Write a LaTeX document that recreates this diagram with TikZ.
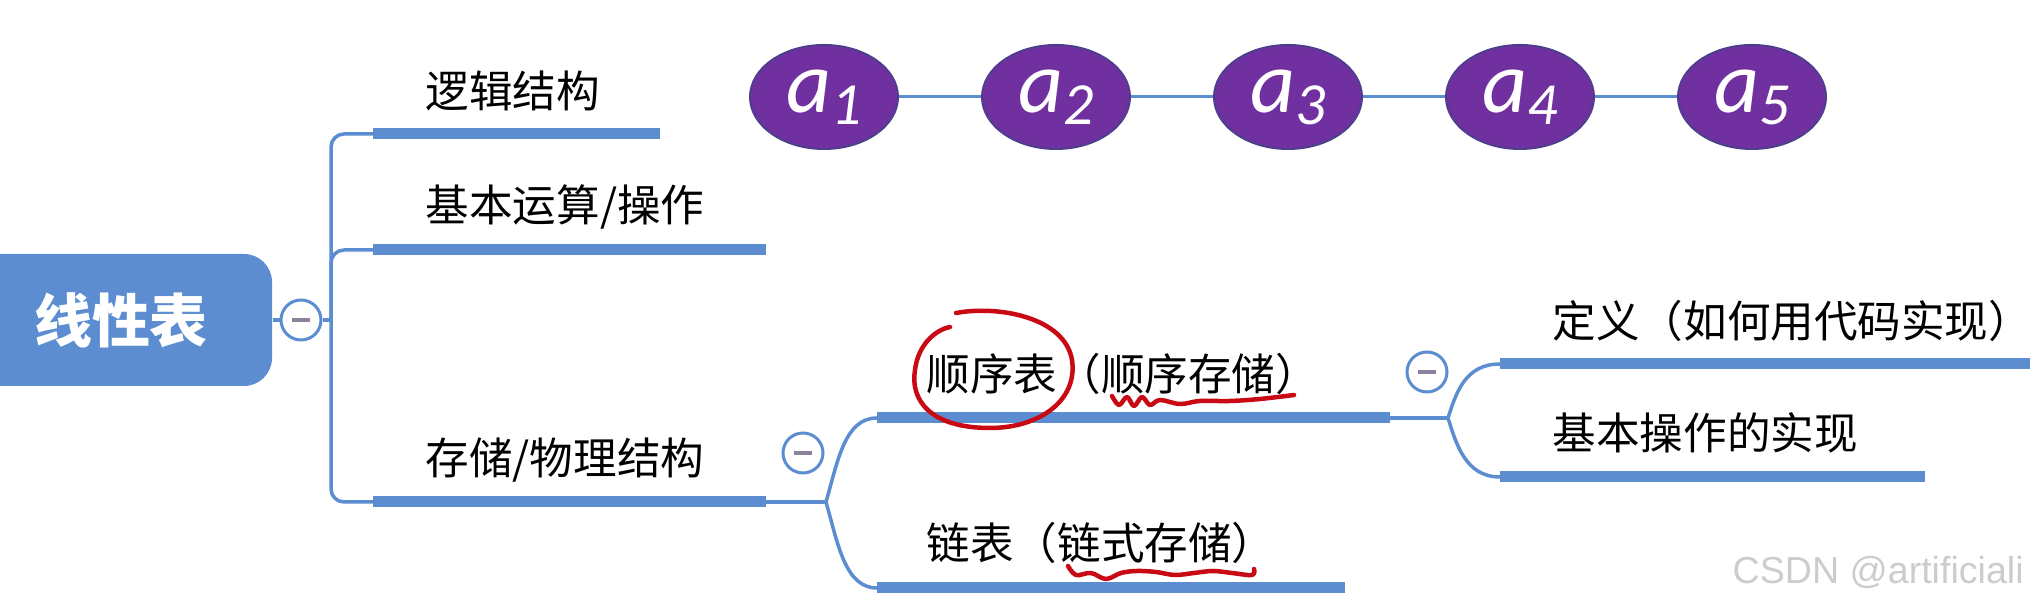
\documentclass[tikz,border=0pt]{standalone}
\usepackage{xcolor}
\usepackage{fontspec}
\usepackage{tikz}
\usetikzlibrary{shapes.geometric, positioning}

\newfontfamily\cjk{Noto Sans CJK SC}
\newfontfamily\calib{Carlito}
\newfontfamily\wmfont{Liberation Sans}

\definecolor{mapblue}{RGB}{91,141,208}
\definecolor{elemfill}{RGB}{112,48,160}
\definecolor{elemline}{RGB}{78,62,140}
\definecolor{minusgray}{RGB}{140,130,160}
\definecolor{penred}{RGB}{200,10,20}

\newcommand{\elemlabel}[1]{{\calib\itshape\fontsize{25}{26}\selectfont a}\raisebox{-1.2mm}{\calib\itshape\fontsize{17}{18}\selectfont #1}}
\newcommand{\foldmark}{\color{minusgray}\rule{1.8mm}{0.4mm}}

\begin{document}
\begin{tikzpicture}[x=0.1mm, y=-0.1mm, node distance=8.2mm]
    \tikzstyle{rootbox} = [rectangle, rounded corners=2.8mm, fill=mapblue, text=white, minimum width=30.2mm, minimum height=13.2mm, font=\cjk\bfseries\fontsize{16.5}{18}\selectfont]
    \tikzstyle{topictext} = [anchor=west, inner sep=0pt, font=\cjk\fontsize{12.4}{15}\selectfont]
    \tikzstyle{foldbtn} = [circle, draw=mapblue, line width=0.3mm, fill=white, inner sep=0pt, minimum size=4mm]
    \tikzstyle{elemnode} = [ellipse, draw=elemline, line width=0.2mm, fill=elemfill, text=white, minimum width=14.8mm, minimum height=10.4mm, inner sep=0pt]
    \tikzstyle{mapbar} = [draw=mapblue, line width=1.1mm]
    \tikzstyle{mapline} = [draw=mapblue, line width=0.35mm]
    \tikzstyle{redpen} = [draw=penred, line width=0.45mm, line cap=round, line join=round]

    \useasboundingbox (0,0) rectangle (2030,607);

    \node (root) [rootbox] at (121,320) {线性表};
    \node (c1) [foldbtn] at (301,320) {\foldmark};
    \coordinate (t0) at (331,320);
    \draw[mapline] (root.east) -- (c1) -- (t0);

    \node (logic) [topictext] at (425,91) {逻辑结构};
    \node (ops) [topictext] at (425,207) {基本运算/操作};
    \node (store) [topictext] at (425,460) {存储/物理结构};
    \node (seq) [topictext] at (926,374) {顺序表（顺序存储）};
    \node (link) [topictext] at (926,543) {链表（链式存储）};
    \node (def) [topictext] at (1552,321) {定义（如何用代码实现）};
    \node (impl) [topictext] at (1552,433) {基本操作的实现};

    % underlines
    \coordinate (logic-a) at (373,134);  \coordinate (logic-b) at (660,134);
    \coordinate (ops-a) at (373,250);    \coordinate (ops-b) at (766,250);
    \coordinate (store-a) at (373,502);  \coordinate (store-b) at (766,502);
    \coordinate (seq-a) at (877,418);    \coordinate (seq-b) at (1390,418);
    \coordinate (link-a) at (877,588);   \coordinate (link-b) at (1345,588);
    \coordinate (def-a) at (1500,364);   \coordinate (def-b) at (2040,364);
    \coordinate (impl-a) at (1500,477);  \coordinate (impl-b) at (1925,477);
    \foreach \n in {logic, ops, store, seq, link, def, impl}
        \draw[mapbar] (\n-a) -- (\n-b);

    \draw[mapline, rounded corners=1.3mm] (logic-a) -- (t0 |- logic-a) -- (t0 |- store-a) -- (store-a);
    \draw[mapline, rounded corners=1.3mm] (t0) -- (t0 |- ops-a) -- (ops-a);

    \node (c2) [foldbtn] at (803,453) {\foldmark};
    \coordinate (f1) at (826,502);
    \draw[mapline] (store-b) -- (f1);
    \draw[mapline] (f1) .. controls +(12,-42) and +(-32,0) .. (seq-a);
    \draw[mapline] (f1) .. controls +(12,42) and +(-32,0) .. (link-a);

    \node (c3) [foldbtn] at (1427,372) {\foldmark};
    \coordinate (f2) at (1448,418);
    \draw[mapline] (seq-b) -- (f2);
    \draw[mapline] (f2) .. controls +(8,-25) and +(-35,0) .. (def-a);
    \draw[mapline] (f2) .. controls +(8,25) and +(-35,0) .. (impl-a);

    % logical structure
    \node (a1) [elemnode] at (824,97) {\elemlabel{1}};
    \node (a2) [elemnode, right=of a1] {\elemlabel{2}};
    \node (a3) [elemnode, right=of a2] {\elemlabel{3}};
    \node (a4) [elemnode, right=of a3] {\elemlabel{4}};
    \node (a5) [elemnode, right=of a4] {\elemlabel{5}};
    \draw[mapline, line width=0.3mm] (a1) -- (a2) -- (a3) -- (a4) -- (a5);

    % red marks
    \draw[redpen] (956,313) .. controls (1000,305) and (1065,318) .. (1072,360) .. controls (1078,400) and (1040,428) .. (990,428) .. controls (930,428) and (910,400) .. (915,370) .. controls (918,345) and (935,330) .. (950,327);
    \draw[redpen] plot[smooth, tension=0.6] coordinates {(1112,396) (1119,405) (1127,397) (1134,406) (1142,397) (1150,405) (1160,400) (1180,404) (1200,401) (1230,401) (1260,399) (1294,395)};
    \draw[redpen] plot[smooth, tension=0.6] coordinates {(1068,566) (1076,575) (1091,573) (1106,579) (1121,573) (1137,571) (1156,572) (1175,575) (1194,573) (1213,571) (1232,573) (1252,575) (1254,569)};

    \node (mark) [anchor=west, inner sep=0pt, text=black!20, font=\wmfont\fontsize{10.7}{12}\selectfont] at (1732,572) {CSDN @artificiali};
\end{tikzpicture}
\end{document}
